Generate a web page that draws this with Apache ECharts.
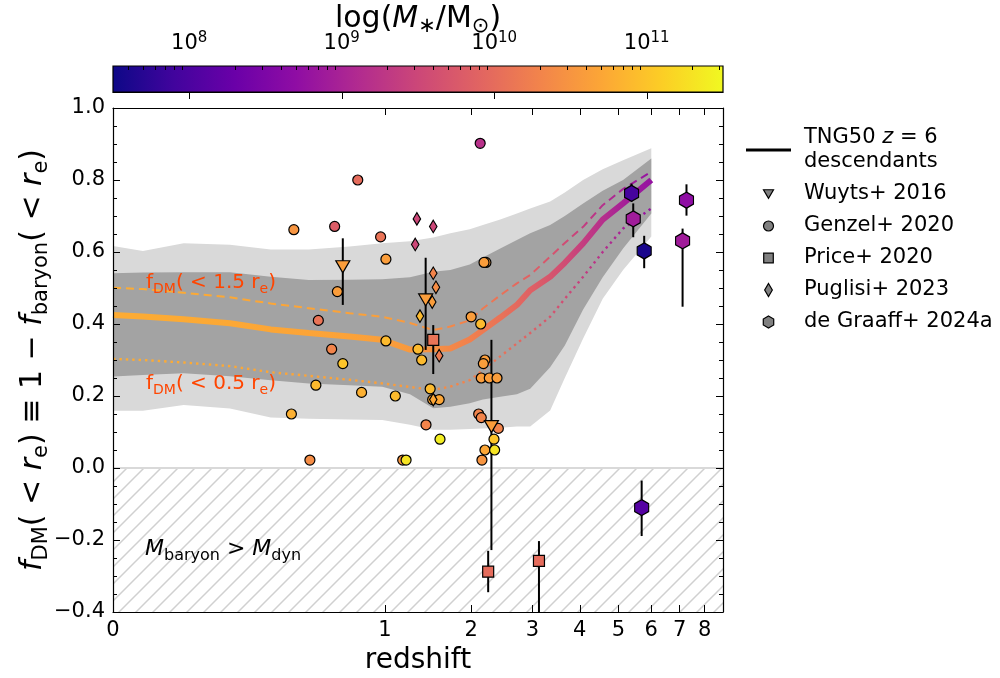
<!DOCTYPE html>
<html>
<head>
<meta charset="utf-8">
<script src="https://cdn.jsdelivr.net/npm/echarts@6/dist/echarts.min.js"></script>
<style>
  html, body { margin: 0; padding: 0; background: #fff; }
  #chart { width: 1000px; height: 678px; }
</style>
</head>
<body>
<div id="chart"></div>
<script>
  // TNG50 z=6 descendants, percentiles vs redshift
  const bandZ = [0, 0.11, 0.26, 0.43, 0.58, 0.72, 0.87, 0.99, 1.25, 1.51, 1.72, 1.98, 2.17, 2.44, 2.72, 2.96, 3.35, 3.66, 4.08, 4.57, 5.13, 6.0]
  const outerHi = [0.617, 0.603, 0.624, 0.62, 0.607, 0.607, 0.615, 0.624, 0.63, 0.64, 0.652, 0.663, 0.675, 0.69, 0.707, 0.721, 0.74, 0.765, 0.80, 0.83, 0.855, 0.888]
  const innerHi = [0.541, 0.543, 0.544, 0.544, 0.531, 0.522, 0.523, 0.524, 0.53, 0.545, 0.55, 0.565, 0.585, 0.61, 0.633, 0.652, 0.675, 0.70, 0.735, 0.77, 0.80, 0.86]
  const innerLo = [0.254, 0.258, 0.263, 0.255, 0.244, 0.235, 0.23, 0.226, 0.205, 0.166, 0.17, 0.18, 0.19, 0.198, 0.205, 0.22, 0.28, 0.34, 0.44, 0.53, 0.61, 0.707]
  const outerLo = [0.159, 0.159, 0.175, 0.165, 0.14, 0.137, 0.135, 0.133, 0.12, 0.106, 0.106, 0.108, 0.11, 0.112, 0.115, 0.115, 0.16, 0.25, 0.36, 0.47, 0.55, 0.643]
  const medRe = [0.425, 0.421, 0.413, 0.402, 0.385, 0.375, 0.365, 0.356, 0.329, 0.33, 0.332, 0.357, 0.383, 0.418, 0.453, 0.494, 0.531, 0.57, 0.624, 0.69, 0.735, 0.80]
  const med15Re = [0.501, 0.497, 0.487, 0.474, 0.457, 0.444, 0.43, 0.42, 0.403, 0.383, 0.393, 0.41, 0.443, 0.48, 0.513, 0.536, 0.587, 0.625, 0.67, 0.73, 0.775, 0.823]
  const med05Re = [0.303, 0.30, 0.293, 0.283, 0.266, 0.256, 0.245, 0.235, 0.225, 0.217, 0.226, 0.244, 0.272, 0.31, 0.346, 0.375, 0.42, 0.47, 0.531, 0.6, 0.665, 0.721]
  const medLogM = [10.75, 10.75, 10.74, 10.72, 10.7, 10.68, 10.65, 10.62, 10.55, 10.45, 10.35, 10.25, 10.18, 10.07, 9.95, 9.85, 9.68, 9.55, 9.35, 9.15, 8.95, 8.75]

  // observations
  const genzelZ = [2.13, 0.90, 0.665, 0.815, 0.984, 1.009, 2.216, 2.187, 0.825, 0.755, 2.0, 2.138, 0.804, 1.009, 0.845, 1.336, 1.377, 2.201, 2.177, 2.146, 2.267, 2.388, 0.746, 0.914, 1.10, 1.474, 1.503, 1.581, 0.656, 2.108, 2.146, 1.426, 2.409, 1.591, 2.34, 0.724, 1.174, 1.209, 2.156, 2.201, 2.35]
  const genzelF = [0.902, 0.80, 0.662, 0.671, 0.642, 0.58, 0.571, 0.571, 0.49, 0.41, 0.42, 0.40, 0.33, 0.353, 0.29, 0.33, 0.30, 0.30, 0.29, 0.25, 0.25, 0.25, 0.23, 0.21, 0.20, 0.22, 0.19, 0.19, 0.15, 0.15, 0.14, 0.12, 0.11, 0.08, 0.08, 0.022, 0.022, 0.022, 0.022, 0.05, 0.05]
  const genzelM = [9.2, 10.0, 10.5, 9.8, 10.1, 10.6, 10.6, 10.6, 10.6, 10.1, 10.6, 10.9, 10.3, 10.9, 11.0, 10.9, 10.9, 10.6, 10.6, 10.6, 10.6, 10.6, 10.9, 10.8, 10.9, 10.9, 10.7, 10.7, 10.8, 10.3, 10.3, 10.3, 10.3, 11.4, 11.0, 10.4, 10.5, 11.3, 10.5, 10.7, 11.3]

  const wuytsZ = [0.845, 1.422, 2.30]
  const wuytsF = [0.559, 0.467, 0.115]
  const wuytsLo = [0.453, 0.328, -0.228]
  const wuytsHi = [0.638, 0.584, 0.356]
  const wuytsM = [10.6, 10.6, 10.6]

  const priceZ = [1.51, 2.25, 3.127]
  const priceF = [0.356, -0.288, -0.258]
  const priceLo = [0.261, -0.345, -0.45]
  const priceHi = [0.397, -0.23, -0.203]
  const priceM = [10.1, 10.0, 10.0]

  const puglisiZ = [1.324, 1.51, 1.306, 1.51, 1.542, 1.498, 1.358, 1.581, 1.51]
  const puglisiF = [0.692, 0.671, 0.621, 0.541, 0.502, 0.461, 0.422, 0.312, 0.19]
  const puglisiM = [9.5, 9.5, 9.5, 10.3, 10.4, 10.6, 10.9, 10.2, 10.7]

  const graaffZ = [5.38, 5.43, 5.77, 7.26, 7.11, 5.69]
  const graaffF = [0.763, 0.692, 0.603, 0.744, 0.631, -0.110]
  const graaffLo = [0.74, 0.641, 0.555, 0.701, 0.448, -0.189]
  const graaffHi = [0.79, 0.735, 0.645, 0.788, 0.665, -0.035]
  const graaffM = [7.95, 8.9, 7.6, 8.7, 8.9, 8.1]

  // ticks
  const zTicks = [0, 1, 2, 3, 4, 5, 6, 7, 8]
  const cbarMajor = [8, 9, 10, 11]

  const FONT = 'DejaVu Sans'
  const PLASMA = ['#0d0887', '#41049d', '#6a00a8', '#8f0da4', '#b12a90', '#cc4778', '#e16462', '#f2844b', '#fca636', '#fcce25', '#f0f921']
  const LOGM_MIN = 7.5, LOGM_MAX = 11.5

  // symlog-like redshift axis: linear below z=1, log(1+z) above
  const zToT = z => z <= 1 ? z : 1 + 1.8 * Math.log10((1 + z) / 2)
  const T_MAX = 2.243

  const hexRgb = h => [1, 3, 5].map(i => parseInt(h.substr(i, 2), 16))
  const plasma = (logM) => {
    let u = (logM - LOGM_MIN) / (LOGM_MAX - LOGM_MIN)
    u = Math.max(0, Math.min(1, u)) * 10
    const i = Math.min(9, Math.floor(u)), f = u - i
    const a = hexRgb(PLASMA[i]), b = hexRgb(PLASMA[i + 1])
    return 'rgb(' + [0, 1, 2].map(k => Math.round(a[k] + (b[k] - a[k]) * f)).join(',') + ')'
  }

  const cbarMinor = []
  for (let n = 7; n <= 11; n++) {
    for (let k = 2; k <= 9; k++) {
      const v = n + Math.log10(k)
      if (v > LOGM_MIN && v < LOGM_MAX) cbarMinor.push(v)
    }
  }

  const bandT = bandZ.map(zToT)
  const tEnd = bandT[bandT.length - 1]
  const lineGradient = () => new echarts.graphic.LinearGradient(0, 0, 1, 0,
    bandT.map((t, i) => ({ offset: t / tEnd, color: plasma(medLogM[i]) })))

  // hatch pattern
  const hatch = document.createElement('canvas')
  hatch.width = 17
  hatch.height = 17
  const hc = hatch.getContext('2d')
  hc.strokeStyle = '#d0d0d0'
  hc.lineWidth = 1.5
  hc.beginPath()
  hc.moveTo(0, 17); hc.lineTo(17, 0)
  hc.moveTo(-3, 3); hc.lineTo(3, -3)
  hc.moveTo(14, 20); hc.lineTo(20, 14)
  hc.stroke()

  const bandSeries = (lo, hi, color) => ({
    type: 'custom',
    silent: true,
    z: 1,
    clip: true,
    data: [[0, 0]],
    renderItem: (params, api) => {
      const pts = []
      bandT.forEach((t, i) => pts.push(api.coord([t, hi[i]])))
      for (let i = bandT.length - 1; i >= 0; i--) pts.push(api.coord([bandT[i], lo[i]]))
      return { type: 'polygon', shape: { points: pts }, style: { fill: color } }
    }
  })

  const lineSeries = (name, values, width, type) => ({
    name: name,
    type: 'line',
    z: 3,
    showSymbol: false,
    silent: true,
    data: bandT.map((t, i) => [t, values[i]]),
    lineStyle: { width: width, type: type, color: lineGradient(), cap: 'butt' }
  })

  const errSeries = (z, lo, hi) => ({
    type: 'custom',
    z: 4,
    clip: true,
    silent: true,
    data: z.map((v, i) => [zToT(v), lo[i], hi[i]]),
    encode: { x: 0, y: [1, 2] },
    renderItem: (params, api) => {
      const a = api.coord([api.value(0), api.value(1)])
      const b = api.coord([api.value(0), api.value(2)])
      return { type: 'line', shape: { x1: a[0], y1: a[1], x2: b[0], y2: b[1] }, style: { stroke: '#000', lineWidth: 2 } }
    }
  })

  const TRI = 'path://M0,0 L2,0 L1,1.7 Z'
  const HEX = 'path://M0.866,0 L1.732,0.5 L1.732,1.5 L0.866,2 L0,1.5 L0,0.5 Z'
  const DIA = 'path://M1,0 L2,1.7 L1,3.4 L0,1.7 Z'
  const SQR = 'path://M0,0 L1,0 L1,1 L0,1 Z'
  // legend icons, padded with bare moves so they keep the reference's size
  const LEG_TRI = 'path://M0,-0.45 M2,2.15 M0,0 L2,0 L1,1.7 Z'
  const LEG_CIR = 'path://M-0.15,-0.15 M1.15,1.15 M0,0.5 A0.5,0.5 0 1,1 1,0.5 A0.5,0.5 0 1,1 0,0.5 Z'
  const LEG_SQR = 'path://M-0.18,-0.18 M1.18,1.18 M0,0 L1,0 L1,1 L0,1 Z'
  const LEG_HEX = 'path://M0.866,-0.08 M0.866,2.08 M0.866,0 L1.732,0.5 L1.732,1.5 L0.866,2 L0,1.5 L0,0.5 Z'
  const LINEICON = 'path://M0,0 L45,0 L45,3 L0,3 Z'

  const scatterSeries = (name, z, f, m, symbol, size) => ({
    name: name,
    type: 'scatter',
    z: 5,
    symbol: symbol,
    symbolSize: size,
    data: z.map((v, i) => [zToT(v), f[i], m[i]]),
    itemStyle: { borderColor: '#000', borderWidth: 1.2, opacity: 1 }
  })

  const chart = echarts.init(document.getElementById('chart'))

  const axisCommon = {
    axisLine: { show: true, onZero: false, lineStyle: { color: '#000', width: 1.2 } },
    splitLine: { show: false },
    z: 10
  }
  const xTickVals = zTicks.map(zToT)

  const legendGray = { color: '#808080', borderColor: '#000', borderWidth: 1.2 }

  const option = {
    animation: false,
    textStyle: { fontFamily: FONT, color: '#000' },
    grid: [
      { left: 113, right: 277, top: 108, bottom: 66, outerBoundsMode: 'none', containLabel: false },
      { left: 113, right: 277, top: 66, height: 26, outerBoundsMode: 'none', containLabel: false }
    ],
    xAxis: [
      Object.assign({}, axisCommon, {
        gridIndex: 0, type: 'value', min: 0, max: T_MAX, position: 'bottom',
        axisTick: { show: true, inside: true, length: 7, customValues: xTickVals, lineStyle: { color: '#000' } },
        axisLabel: {
          customValues: xTickVals, fontSize: 21, margin: 8, color: '#000',
          formatter: (v) => {
            let best = 0
            xTickVals.forEach((t, i) => { if (Math.abs(t - v) < Math.abs(xTickVals[best] - v)) best = i })
            return String(zTicks[best])
          }
        },
        name: 'redshift', nameLocation: 'middle', nameGap: 35,
        nameTextStyle: { fontSize: 28, color: '#000', fontFamily: FONT }
      }),
      Object.assign({}, axisCommon, {
        gridIndex: 0, type: 'value', min: 0, max: T_MAX, position: 'top',
        axisTick: { show: true, inside: true, length: 7, customValues: xTickVals, lineStyle: { color: '#000' } },
        axisLabel: { show: false }
      }),
      {
        gridIndex: 1, type: 'value', min: LOGM_MIN, max: LOGM_MAX, position: 'top', z: 10,
        axisLine: { show: true, lineStyle: { color: '#000', width: 1.2 } },
        splitLine: { show: false },
        axisTick: { show: true, inside: true, length: 7, customValues: cbarMajor, lineStyle: { color: '#000' } },
        axisLabel: {
          customValues: cbarMajor, margin: 9, color: '#000',
          formatter: v => '{b|10}{p|' + Math.round(v) + '}',
          rich: {
            b: { fontSize: 21, fontFamily: FONT, lineHeight: 26, color: '#000' },
            p: { fontSize: 15, fontFamily: FONT, verticalAlign: 'top', color: '#000' }
          }
        }
      },
      {
        gridIndex: 1, type: 'value', min: LOGM_MIN, max: LOGM_MAX, position: 'top', z: 10,
        axisLine: { show: false },
        splitLine: { show: false },
        axisTick: { show: true, inside: true, length: 4, customValues: cbarMinor, lineStyle: { color: '#000' } },
        axisLabel: { show: false }
      }
    ],
    yAxis: [
      Object.assign({}, axisCommon, {
        gridIndex: 0, type: 'value', min: -0.4, max: 1.0, interval: 0.2, position: 'left',
        axisTick: { show: true, inside: true, length: 7, lineStyle: { color: '#000' } },
        minorTick: { show: true, splitNumber: 4, length: 4, lineStyle: { color: '#000' } },
        axisLabel: {
          fontSize: 21, margin: 8, color: '#000',
          formatter: v => (v < -1e-9 ? '\u2212' : '') + Math.abs(v).toFixed(1)
        }
      }),
      Object.assign({}, axisCommon, {
        gridIndex: 0, type: 'value', min: -0.4, max: 1.0, interval: 0.2, position: 'right',
        axisTick: { show: true, inside: true, length: 7, lineStyle: { color: '#000' } },
        minorTick: { show: true, splitNumber: 4, length: 4, lineStyle: { color: '#000' } },
        axisLabel: { show: false }
      }),
      { gridIndex: 1, type: 'value', min: 0, max: 1, show: false }
    ],
    visualMap: {
      type: 'continuous', show: false, dimension: 2,
      min: LOGM_MIN, max: LOGM_MAX,
      seriesIndex: [9, 10, 11, 12, 13],
      inRange: { color: PLASMA }
    },
    legend: {
      orient: 'vertical', left: 741, top: 121,
      itemWidth: 45, itemHeight: 13, itemGap: 8,
      selectedMode: false, align: 'left',
      textStyle: {
        fontFamily: FONT, fontSize: 21, lineHeight: 24, color: '#000', padding: [0, 0, 0, 8],
        rich: {
          a: { fontFamily: FONT, fontSize: 21, lineHeight: 24, color: '#000' },
          i: { fontFamily: FONT, fontSize: 21, lineHeight: 24, fontStyle: 'italic', color: '#000' }
        }
      },
      formatter: name => name === 'TNG50' ? '{a|TNG50 }{i|z}{a| = 6}\n{a|descendants}' : name,
      data: [
        { name: 'TNG50', icon: LINEICON, itemStyle: { color: '#000', borderWidth: 0 } },
        { name: 'Wuyts+ 2016', icon: LEG_TRI, itemStyle: legendGray },
        { name: 'Genzel+ 2020', icon: LEG_CIR, itemStyle: legendGray },
        { name: 'Price+ 2020', icon: LEG_SQR, itemStyle: legendGray },
        { name: 'Puglisi+ 2023', icon: DIA, itemStyle: legendGray },
        { name: 'de Graaff+ 2024a', icon: LEG_HEX, itemStyle: legendGray }
      ]
    },
    graphic: [
      {
        type: 'text', x: 33, y: 360, rotation: Math.PI / 2, z: 20,
        style: {
          text: '{i|f}{s|DM}{n|( < }{i|r}{s|e}{n|) \u2261 1 \u2212 }{i|f}{s|baryon}{n|( < }{i|r}{s|e}{n|)}',
          align: 'center', verticalAlign: 'middle',
          rich: {
            n: { fontFamily: FONT, fontSize: 30, lineHeight: 38, fill: '#000' },
            i: { fontFamily: FONT, fontSize: 30, lineHeight: 38, fontStyle: 'italic', fill: '#000' },
            s: { fontFamily: FONT, fontSize: 21, verticalAlign: 'bottom', fill: '#000' }
          }
        }
      },
      {
        type: 'text', x: 418, y: 19, z: 20,
        style: {
          text: '{n|log(}{i|M}{s|\u2217}{n|/M}{s|\u2299}{n|)}',
          align: 'center', verticalAlign: 'middle',
          rich: {
            n: { fontFamily: FONT, fontSize: 30, lineHeight: 36, fill: '#000' },
            i: { fontFamily: FONT, fontSize: 30, lineHeight: 36, fontStyle: 'italic', fill: '#000' },
            s: { fontFamily: FONT, fontSize: 21, verticalAlign: 'bottom', fill: '#000' }
          }
        }
      },
      {
        type: 'text', x: 146, y: 283, z: 20,
        style: {
          text: '{n|f}{s|DM}{n|( < 1.5 r}{s|e}{n|)}',
          align: 'left', verticalAlign: 'middle',
          rich: {
            n: { fontFamily: FONT, fontSize: 20, lineHeight: 26, fill: '#ff4500' },
            s: { fontFamily: FONT, fontSize: 14, verticalAlign: 'bottom', fill: '#ff4500' }
          }
        }
      },
      {
        type: 'text', x: 146, y: 384, z: 20,
        style: {
          text: '{n|f}{s|DM}{n|( < 0.5 r}{s|e}{n|)}',
          align: 'left', verticalAlign: 'middle',
          rich: {
            n: { fontFamily: FONT, fontSize: 20, lineHeight: 26, fill: '#ff4500' },
            s: { fontFamily: FONT, fontSize: 14, verticalAlign: 'bottom', fill: '#ff4500' }
          }
        }
      },
      {
        type: 'text', x: 145, y: 549, z: 20,
        style: {
          text: '{i|M}{s|baryon}{n| > }{i|M}{s|dyn}',
          align: 'left', verticalAlign: 'middle',
          rich: {
            n: { fontFamily: FONT, fontSize: 22, lineHeight: 29, fill: '#000' },
            i: { fontFamily: FONT, fontSize: 22, lineHeight: 29, fontStyle: 'italic', fill: '#000' },
            s: { fontFamily: FONT, fontSize: 16, verticalAlign: 'bottom', fill: '#000' }
          }
        }
      }
    ],
    series: [
      bandSeries(outerLo, outerHi, '#d9d9d9'),
      bandSeries(innerLo, innerHi, '#a3a3a3'),
      {
        type: 'custom', silent: true, z: 1, clip: true,
        data: [[0, 0]],
        renderItem: (params, api) => {
          const a = api.coord([0, 0])
          const b = api.coord([T_MAX, -0.4])
          return {
            type: 'group',
            children: [
              { type: 'rect', shape: { x: a[0], y: a[1], width: b[0] - a[0], height: b[1] - a[1] }, style: { fill: { image: hatch, repeat: 'repeat' } } },
              { type: 'line', shape: { x1: a[0], y1: a[1], x2: b[0], y2: a[1] }, style: { stroke: '#d9d9d9', lineWidth: 2 } }
            ]
          }
        }
      },
      lineSeries('TNG50', medRe, 6, 'solid'),
      lineSeries('TNG50 1.5re', med15Re, 2, [8, 5]),
      lineSeries('TNG50 0.5re', med05Re, 2.4, [2.4, 4]),
      errSeries(wuytsZ, wuytsLo, wuytsHi),
      errSeries(priceZ, priceLo, priceHi),
      errSeries(graaffZ, graaffLo, graaffHi),
      scatterSeries('Genzel+ 2020', genzelZ, genzelF, genzelM, 'circle', 10),
      scatterSeries('Wuyts+ 2016', wuytsZ, wuytsF, wuytsM, TRI, [14, 12]),
      scatterSeries('Price+ 2020', priceZ, priceF, priceM, SQR, 11),
      scatterSeries('Puglisi+ 2023', puglisiZ, puglisiF, puglisiM, DIA, [7.5, 12.5]),
      scatterSeries('de Graaff+ 2024a', graaffZ, graaffF, graaffM, HEX, [14, 16]),
      {
        type: 'custom', xAxisIndex: 2, yAxisIndex: 2, silent: true, z: 1,
        data: [[LOGM_MIN, 0]],
        renderItem: (params, api) => {
          const a = api.coord([LOGM_MIN, 1])
          const b = api.coord([LOGM_MAX, 0])
          return {
            type: 'rect',
            shape: { x: a[0], y: a[1], width: b[0] - a[0], height: b[1] - a[1] },
            style: {
              fill: new echarts.graphic.LinearGradient(0, 0, 1, 0, PLASMA.map((c, i) => ({ offset: i / 10, color: c }))),
              stroke: '#000', lineWidth: 1.2
            }
          }
        }
      }
    ]
  }

  chart.setOption(option)
</script>
</body>
</html>
